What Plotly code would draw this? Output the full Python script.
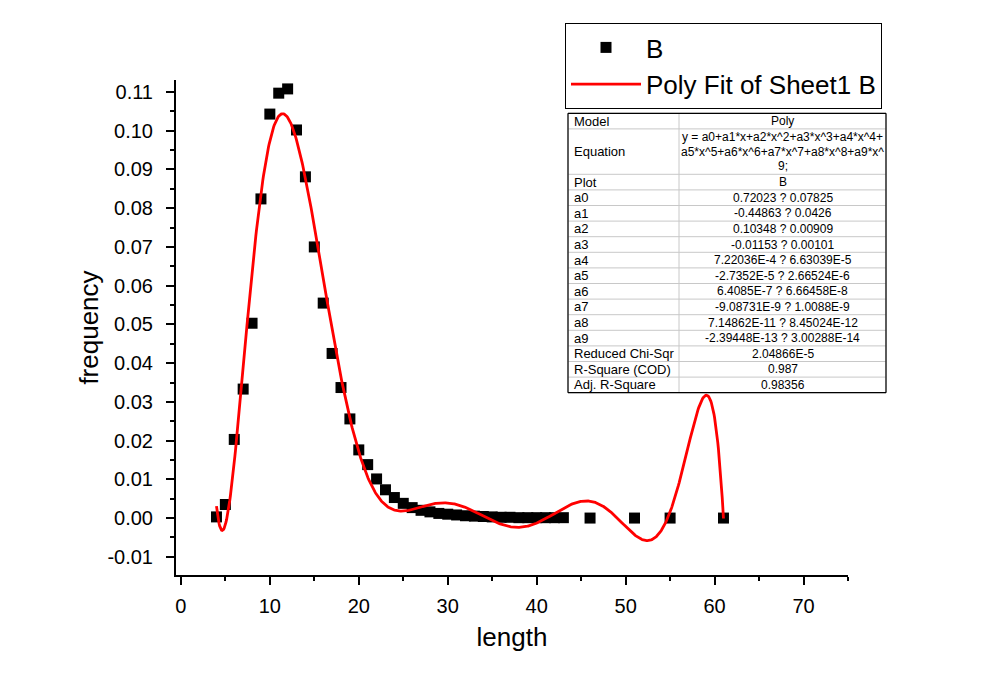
import numpy as np
import plotly.graph_objects as go

# ---------------- data ----------------
length = [4, 5, 6, 7, 8, 9, 10, 11, 12, 13, 14, 15, 16, 17, 18, 19, 20, 21, 22, 23,
          24, 25, 26, 27, 28, 29, 30, 31, 32, 33, 34, 35, 36, 37, 38, 39, 40, 41, 42, 43,
          46, 51, 55, 61]
frequency = [0.0003, 0.0035, 0.0203, 0.0333, 0.0503, 0.0824, 0.1043, 0.1097, 0.1108, 0.1002,
             0.0881, 0.0700, 0.0555, 0.0425, 0.0337, 0.0256, 0.0176, 0.0138, 0.0101, 0.0073,
             0.0053, 0.0038, 0.0027, 0.0020, 0.0016, 0.0012, 0.0010, 0.0008, 0.0006, 0.0005,
             0.0004, 0.0003, 0.0002, 0.0002, 0.0001, 0.0001, 0.0001, 0.0001, 0.0001, 0.0001,
             0.0, 0.0, 0.0, 0.0]

fit_degree = 9

x_tick_vals = [0, 10, 20, 30, 40, 50, 60, 70]
x_tick_text = ["0", "10", "20", "30", "40", "50", "60", "70"]
y_tick_vals = [-0.01, 0.0, 0.01, 0.02, 0.03, 0.04, 0.05, 0.06, 0.07, 0.08, 0.09, 0.10, 0.11]
y_tick_text = ["-0.01", "0.00", "0.01", "0.02", "0.03", "0.04", "0.05", "0.06", "0.07",
               "0.08", "0.09", "0.10", "0.11"]

table_labels = ["Model", "Equation", "Plot", "a0", "a1", "a2", "a3", "a4", "a5", "a6",
                "a7", "a8", "a9", "Reduced Chi-Sqr", "R-Square (COD)", "Adj. R-Square"]
table_values = ["Poly",
                "y = a0+a1*x+a2*x^2+a3*x^3+a4*x^4+\na5*x^5+a6*x^6+a7*x^7+a8*x^8+a9*x^\n9;",
                "B",
                "0.72023 ? 0.07825",
                "-0.44863 ? 0.0426",
                "0.10348 ? 0.00909",
                "-0.01153 ? 0.00101",
                "7.22036E-4 ? 6.63039E-5",
                "-2.7352E-5 ? 2.66524E-6",
                "6.4085E-7 ? 6.66458E-8",
                "-9.08731E-9 ? 1.0088E-9",
                "7.14862E-11 ? 8.45024E-12",
                "-2.39448E-13 ? 3.00288E-14",
                "2.04866E-5",
                "0.987",
                "0.98356"]

# ---------------- fit (polynomial of the data, like the original fit) ----------------
poly = np.polynomial.Polynomial.fit(length, frequency, fit_degree)
fit_x = np.linspace(min(length), max(length), 800)
fit_y = poly(fit_x)

# ---------------- layout geometry (pixels, in screenshot coordinates) ----------------
W, H = 986, 690
PAGE_OFF = 8          # browser body margin
PL, PR, PT, PB = 176, 848, 80, 575


def px(x):
    return (x - PL) / (PR - PL)


def py(y):
    return (PB - y) / (PB - PT)


FONT = "Arial, Liberation Sans, sans-serif"

fig = go.Figure()
fig.add_trace(go.Scatter(
    x=length, y=frequency, mode="markers", name="B",
    marker=dict(symbol="square", size=11, color="black", line=dict(width=0)),
))
fig.add_trace(go.Scatter(
    x=fit_x, y=fit_y, mode="lines", name="Poly Fit of Sheet1 B",
    line=dict(color="#ff0000", width=2.8),
))

axis_common = dict(
    showgrid=False, zeroline=False, showline=True, linecolor="black", linewidth=2,
    ticks="outside", ticklen=8, tickwidth=2, tickcolor="black",
    tickfont=dict(family=FONT, size=20, color="black"),
    mirror=False,
)

fig.update_xaxes(
    range=[-0.55, 75], tickmode="array", tickvals=x_tick_vals, ticktext=x_tick_text,
    title=dict(text="length", font=dict(family=FONT, size=26, color="black"), standoff=12),
    minor=dict(dtick=5, tick0=0, ticks="outside", ticklen=4, tickwidth=2, tickcolor="black"),
    ticklabelstandoff=4,
    **axis_common,
)
fig.update_yaxes(
    range=[-0.0147, 0.1131], tickmode="array", tickvals=y_tick_vals, ticktext=y_tick_text,
    title=dict(text="frequency", font=dict(family=FONT, size=26, color="black"), standoff=1),
    minor=dict(dtick=0.005, tick0=0, ticks="outside", ticklen=4, tickwidth=2, tickcolor="black"),
    ticklabelstandoff=9,
    **axis_common,
)

# ---------------- fit result table ----------------
TX0, TX1, TXM = 568, 886, 679
TY0 = 113.3
ROW_H = 15.6
EQ_H = 45.4
shapes = []
annotations = []
y = TY0
row_edges = [y]
for lab, val in zip(table_labels, table_values):
    lines = val.split("\n")
    h = EQ_H if len(lines) > 1 else ROW_H
    y_mid = y + h / 2
    annotations.append(dict(
        x=px(TX0 + 4), y=py(y_mid), xref="paper", yref="paper", text=lab,
        showarrow=False, xanchor="left", yanchor="middle",
        font=dict(family=FONT, size=13, color="black"),
    ))
    n = len(lines)
    line_gap = 14.5
    for i, ln in enumerate(lines):
        ly = y_mid + (i - (n - 1) / 2) * line_gap
        annotations.append(dict(
            x=px((TXM + TX1) / 2), y=py(ly), xref="paper", yref="paper", text=ln,
            showarrow=False, xanchor="center", yanchor="middle",
            font=dict(family=FONT, size=12, color="black"),
        ))
    y += h
    row_edges.append(y)

TY1 = row_edges[-1]
shapes.append(dict(type="rect", xref="paper", yref="paper", x0=px(TX0), x1=px(TX1),
                   y0=py(TY0), y1=py(TY1), line=dict(color="#c8c8c8", width=1),
                   fillcolor="white", layer="above"))
for e in row_edges[1:-1]:
    shapes.append(dict(type="line", xref="paper", yref="paper", x0=px(TX0), x1=px(TX1),
                       y0=py(e), y1=py(e), line=dict(color="#c8c8c8", width=1)))
shapes.append(dict(type="line", xref="paper", yref="paper", x0=px(TXM), x1=px(TXM),
                   y0=py(TY0), y1=py(TY1), line=dict(color="#c8c8c8", width=1)))
for (a0, b0, a1, b1) in [(TX0, TY1, TX1, TY1), (TX1, TY0, TX1, TY1),
                         (TX0, TY0, TX1, TY0), (TX0, TY0, TX0, TY1)]:
    shapes.append(dict(type="line", xref="paper", yref="paper", x0=px(a0), x1=px(a1),
                       y0=py(b0), y1=py(b1), line=dict(color="black", width=1.2)))

fig.update_layout(
    width=W, height=H,
    margin=dict(l=PL - PAGE_OFF, r=W - PR + PAGE_OFF, t=PT - PAGE_OFF,
                b=H - PB + PAGE_OFF, autoexpand=False),
    paper_bgcolor="white", plot_bgcolor="white",
    font=dict(family=FONT, color="black"),
    showlegend=True,
    legend=dict(
        x=px(565), y=py(23), xanchor="left", yanchor="top",
        bgcolor="white", bordercolor="black", borderwidth=1,
        font=dict(family=FONT, size=26, color="black"),
        itemwidth=70, tracegroupgap=0,
    ),
    shapes=shapes,
    annotations=annotations,
)

fig.write_html("out.html")
